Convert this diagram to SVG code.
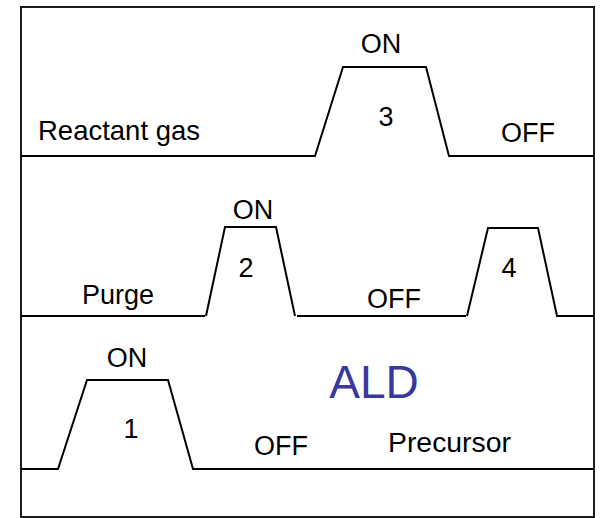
<svg xmlns="http://www.w3.org/2000/svg" width="600" height="518" viewBox="0 0 600 518">
  <style>
    .frame { fill: none; stroke: #1a1a1a; stroke-width: 2; }
    .wave { fill: none; stroke: #000; stroke-width: 2; stroke-linejoin: miter; }
    .lbl { font-family: "Liberation Sans", Arial, sans-serif; font-size: 27px; fill: #000; text-anchor: middle; }
    .start { text-anchor: start; }
    .title { font-family: "Liberation Sans", Arial, sans-serif; font-size: 46px; fill: #37379d; text-anchor: middle; }
  </style>
  <rect width="600" height="518" fill="#fff"/>

  <!-- outer frame -->
  <rect class="frame" x="21" y="7" width="573" height="510"/>

  <g id="connectors">
    <!-- reactant gas pulse (step 3) -->
    <polyline class="wave" points="21,156 315,156 343,67 426,67 449,156 594,156"/>
    <!-- purge pulses (steps 2 and 4) -->
    <polyline class="wave" points="21,316 205,316"/>
    <polyline class="wave" points="206,316 225,227 276,227 295,316"/>
    <polyline class="wave" points="297,316 466,316"/>
    <polyline class="wave" points="467,316 488,228 538,228 557,316 594,316"/>
    <!-- precursor pulse (step 1) -->
    <polyline class="wave" points="21,469 58,469 87,380 168,380 193,469 594,469"/>
  </g>

  <g id="reactant">
    <text class="lbl start" x="38" y="140" style="font-size:28px" textLength="162" lengthAdjust="spacingAndGlyphs">Reactant gas</text>
    <text class="lbl" x="381" y="53">ON</text>
    <text class="lbl" x="386" y="126">3</text>
    <text class="lbl" x="528" y="142">OFF</text>
  </g>

  <g id="purge">
    <text class="lbl" x="118" y="304">Purge</text>
    <text class="lbl" x="253" y="219">ON</text>
    <text class="lbl" x="246" y="277">2</text>
    <text class="lbl" x="394" y="308">OFF</text>
    <text class="lbl" x="509" y="277">4</text>
  </g>

  <g id="precursor">
    <text class="lbl" x="127" y="367">ON</text>
    <text class="lbl" x="131" y="438">1</text>
    <text class="lbl" x="281" y="455">OFF</text>
    <text class="lbl start" x="388" y="452" style="font-size:28px" textLength="123" lengthAdjust="spacingAndGlyphs">Precursor</text>
  </g>

  <g id="title">
    <text class="title" x="374" y="398">ALD</text>
  </g>
</svg>
